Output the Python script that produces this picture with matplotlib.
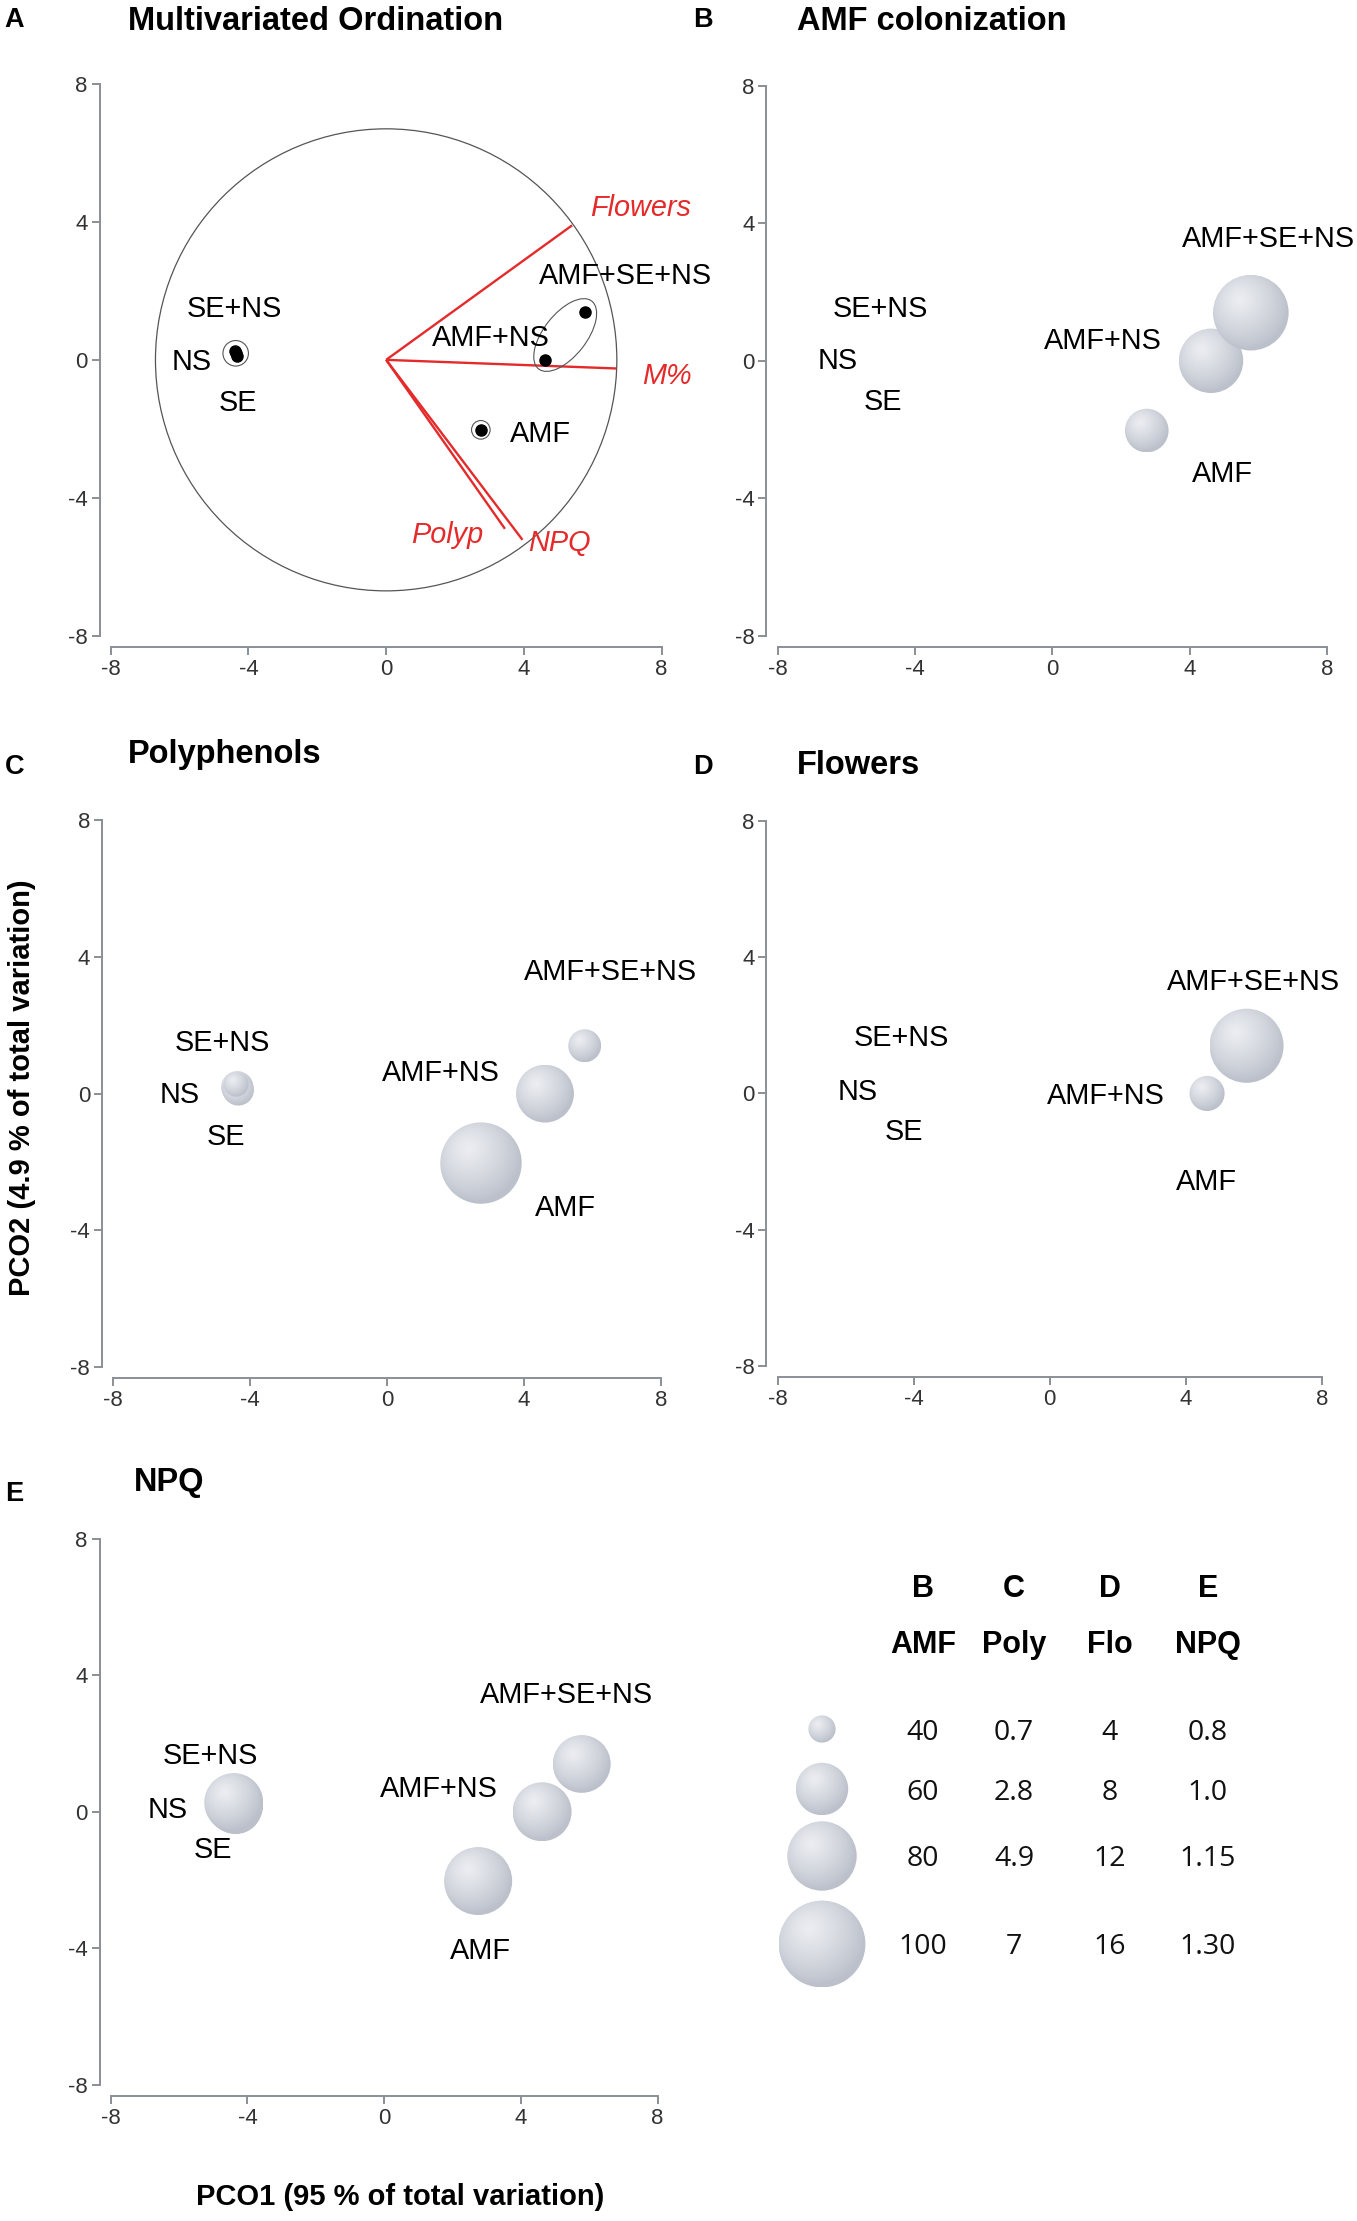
import numpy as np
import matplotlib
matplotlib.use('Agg')
import matplotlib.pyplot as plt
from matplotlib.patches import Circle, Ellipse

W, H = 1357, 2221
plt.rcParams['font.family'] = ['Liberation Sans', 'DejaVu Sans']

# ---------------- data ----------------
treatments = ['NS', 'SE', 'SE+NS', 'AMF', 'AMF+NS', 'AMF+SE+NS']
pco1 = [-4.37, -4.34, -4.40, 2.75, 4.62, 5.78]
pco2 = [0.19, 0.11, 0.27, -2.03, 0.00, 1.40]

amf_colonization = [0, 0, 0, 53, 74, 87]
polyphenols = [1.12, 1.05, 0.63, 6.37, 3.49, 1.18]
flowers = [0, 0, 0, 0, 5.3, 13.2]
npq = [1.04, 1.00, 1.06, 1.14, 1.06, 1.05]

vec_names = ['Flowers', 'M%', 'Polyp', 'NPQ']
vec_x = [5.40, 6.68, 3.45, 3.96]
vec_y = [3.90, -0.25, -4.90, -5.22]
corr_circle_radius = 6.7

legend_headers = ['B', 'C', 'D', 'E']
legend_vars = ['AMF', 'Poly', 'Flo', 'NPQ']
leg_amf = [40, 60, 80, 100]
leg_poly = [0.7, 2.8, 4.9, 7]
leg_flo = [4, 8, 12, 16]
leg_npq = [0.8, 1.0, 1.15, 1.30]
leg_amf_txt = ['40', '60', '80', '100']
leg_poly_txt = ['0.7', '2.8', '4.9', '7']
leg_flo_txt = ['4', '8', '12', '16']
leg_npq_txt = ['0.8', '1.0', '1.15', '1.30']

ticks = [-8, -4, 0, 4, 8]

# ---------------- styling ----------------
LEG_R_PX = [13.6, 26.2, 34.7, 43.4]   # bubble radius (px) of legend sizes
PX_PER_UNIT = 34.3
RED = '#e42a2a'
SPINE = '#8a8f96'
LBL_FS = 20.8

fig = plt.figure(figsize=(W / 100, H / 100), dpi=100)
fig.patch.set_facecolor('white')
over = fig.add_axes([0, 0, 1, 1])
over.set_xlim(0, W)
over.set_ylim(0, H)
over.axis('off')


def sphere(ax, x, y, r, z=3):
    n = 160
    g = np.linspace(-1, 1, n)
    X, Y = np.meshgrid(g, g)
    d = np.hypot(X + 0.30, Y - 0.35)
    v = np.clip(d / 1.40, 0, 1) ** 1.1
    rr = np.hypot(X, Y)
    v = np.clip(v + 0.12 * np.clip(rr, 0, 1) ** 8, 0, 1)
    hi = np.array([0.925, 0.932, 0.948])
    lo = np.array([0.735, 0.755, 0.795])
    img = hi * (1 - v[..., None]) + lo * v[..., None]
    im = ax.imshow(img, extent=[x - r, x + r, y - r, y + r], origin='lower',
                   zorder=z, interpolation='bilinear')
    c = Circle((x, y), r, transform=ax.transData, fc='none', ec='none')
    ax.add_patch(c)
    im.set_clip_path(c)


def size_px(v, leg_vals, zero_origin=True):
    if zero_origin:
        return float(np.interp(v, [0] + list(leg_vals), [0] + LEG_R_PX))
    return float(np.interp(v, leg_vals, LEG_R_PX))


def px_axes(x0, x1, yt, yb):
    ax = fig.add_axes([x0 / W, 1 - yb / H, (x1 - x0) / W, (yb - yt) / H])
    ax.set_facecolor('none')
    for s in ['top', 'right']:
        ax.spines[s].set_visible(False)
    for s in ['left', 'bottom']:
        ax.spines[s].set_position(('outward', 8))
        ax.spines[s].set_bounds(-8, 8)
        ax.spines[s].set_color(SPINE)
        ax.spines[s].set_linewidth(1.4)
    ax.set_xticks(ticks)
    ax.set_yticks(ticks)
    ax.set_xticklabels([str(t) for t in ticks])
    ax.set_yticklabels([str(t) for t in ticks])
    ax.tick_params(direction='out', length=5.5, width=1.4, color=SPINE,
                   labelsize=16, labelcolor='#333333', pad=3)
    return ax


def finish(ax):
    ax.set_xlim(-8, 8)
    ax.set_ylim(-8, 8)
    ax.set_aspect('auto')


def label(ax, x, y, s, **kw):
    ax.text(x, y - 0.30, s, ha='center', va='baseline', fontsize=LBL_FS,
            clip_on=False, zorder=6, **kw)


boxes = {
    'A': (110.7, 661.6, 84.0, 635.7),
    'B': (777.5, 1327.1, 85.9, 635.7),
    'C': (113.0, 660.7, 820.0, 1367.3),
    'D': (777.5, 1322.1, 820.9, 1366.0),
    'E': (110.7, 657.6, 1538.6, 2084.9),
}

label_pos = {
    'A': {'NS': (-5.64, 0.01), 'SE': (-4.31, -1.17), 'SE+NS': (-4.40, 1.55),
          'AMF': (4.47, -2.09), 'AMF+NS': (3.05, 0.70), 'AMF+SE+NS': (6.94, 2.50)},
    'B': {'NS': (-6.24, 0.05), 'SE': (-4.93, -1.14), 'SE+NS': (-5.0, 1.58),
          'AMF': (4.96, -3.23), 'AMF+NS': (1.46, 0.63), 'AMF+SE+NS': (6.29, 3.62)},
    'C': {'NS': (-6.05, 0.03), 'SE': (-4.71, -1.19), 'SE+NS': (-4.80, 1.55),
          'AMF': (5.22, -3.28), 'AMF+NS': (1.58, 0.68), 'AMF+SE+NS': (6.52, 3.62)},
    'D': {'NS': (-5.64, 0.12), 'SE': (-4.30, -1.06), 'SE+NS': (-4.37, 1.70),
          'AMF': (4.59, -2.54), 'AMF+NS': (1.66, -0.02), 'AMF+SE+NS': (5.97, 3.34)},
    'E': {'NS': (-6.34, 0.12), 'SE': (-5.00, -1.05), 'SE+NS': (-5.09, 1.69),
          'AMF': (2.82, -4.00), 'AMF+NS': (1.59, 0.74), 'AMF+SE+NS': (5.33, 3.49)},
}

# ---------------- panel A ----------------
axA = px_axes(*boxes['A'])
axA.add_patch(Circle((0, 0), corr_circle_radius, fill=False, ec='#555555', lw=0.9, zorder=2))
for nm, vx, vy in zip(vec_names, vec_x, vec_y):
    axA.plot([0, vx], [0, vy], color=RED, lw=1.7, zorder=3, solid_capstyle='butt')
vec_lab = {'Flowers': (7.39, 4.48), 'M%': (8.16, -0.39), 'Polyp': (1.76, -5.01), 'NPQ': (5.02, -5.25)}
for nm in vec_names:
    label(axA, *vec_lab[nm], nm, color=RED, style='italic')
axA.plot(pco1, pco2, 'o', color='black', ms=8, zorder=5)
gx, gy = np.mean(pco1[:3]), np.mean(pco2[:3])
axA.add_patch(Circle((gx, gy), 0.37, fill=False, ec='#555555', lw=0.8, zorder=4))
axA.add_patch(Circle((pco1[3], pco2[3]), 0.27, fill=False, ec='#555555', lw=0.8, zorder=4))
ex, ey = (pco1[4] + pco1[5]) / 2, (pco2[4] + pco2[5]) / 2 + 0.02
ang = np.degrees(np.arctan2(pco2[5] - pco2[4], pco1[5] - pco1[4])) + 1.5
axA.add_patch(Ellipse((ex, ey), 2.5, 1.24, angle=ang, fill=False, ec='#555555', lw=0.8, zorder=4))
for t in treatments:
    label(axA, *label_pos['A'][t], t)
finish(axA)

# ---------------- bubble panels ----------------
panels = [
    ('B', amf_colonization, leg_amf, True, [0, 1, 2, 3, 4, 5]),
    ('C', polyphenols, leg_poly, True, [0, 1, 2, 3, 4, 5]),
    ('D', flowers, leg_flo, True, [0, 1, 2, 3, 4, 5]),
    ('E', npq, leg_npq, False, [1, 0, 2, 3, 5, 4]),
]
for key, vals, legv, zo, order in panels:
    ax = px_axes(*boxes[key])
    for k, i in enumerate(order):
        rpx = size_px(vals[i], legv, zo)
        if rpx > 0.5:
            sphere(ax, pco1[i], pco2[i], rpx / PX_PER_UNIT, z=3 + k * 0.01)
    for t in treatments:
        label(ax, *label_pos[key][t], t)
    finish(ax)

# ---------------- letters, titles, axis labels ----------------
def otext(x, y, s, **kw):
    over.text(x, H - y, s, **kw)

for L, x, yb in [('A', 4, 27), ('B', 693, 27), ('C', 5, 774), ('D', 693, 774), ('E', 5, 1501)]:
    otext(x, yb, L, fontsize=19.5, weight='bold', va='baseline', ha='left')
for T, x, yb in [('Multivariated Ordination', 128, 30), ('AMF colonization', 797, 30),
                 ('Polyphenols', 128, 763), ('Flowers', 797, 774), ('NPQ', 134, 1491)]:
    otext(x, yb, T, fontsize=23.5, weight='bold', va='baseline', ha='left')
otext(22, 1088, 'PCO2 (4.9 % of total variation)', rotation=90, fontsize=21,
      weight='bold', ha='center', va='center')
otext(400, 2197, 'PCO1 (95 % of total variation)', fontsize=21, weight='bold',
      ha='center', va='center')

# ---------------- size legend ----------------
cols_x = [923, 1014, 1110, 1208]
for cx, h, v in zip(cols_x, legend_headers, legend_vars):
    otext(cx, 1597, h, fontsize=22, weight='bold', ha='center', va='baseline')
    otext(cx, 1653, v, fontsize=22, weight='bold', ha='center', va='baseline')
row_y = [1729, 1789, 1856, 1944]
cols_txt = [leg_amf_txt, leg_poly_txt, leg_flo_txt, leg_npq_txt]
for j, ry in enumerate(row_y):
    r = size_px(leg_amf[j], leg_amf)
    sphere(over, 822, H - ry, r, z=3)
    for cx, txts in zip(cols_x, cols_txt):
        otext(cx, ry + 10.5, txts[j], fontsize=20.5, family=['Open Sans', 'DejaVu Sans'],
              ha='center', va='baseline', color='#111111')
over.set_xlim(0, W)
over.set_ylim(0, H)
over.set_aspect('auto')

fig.savefig('out.png', dpi=100, facecolor='white')
